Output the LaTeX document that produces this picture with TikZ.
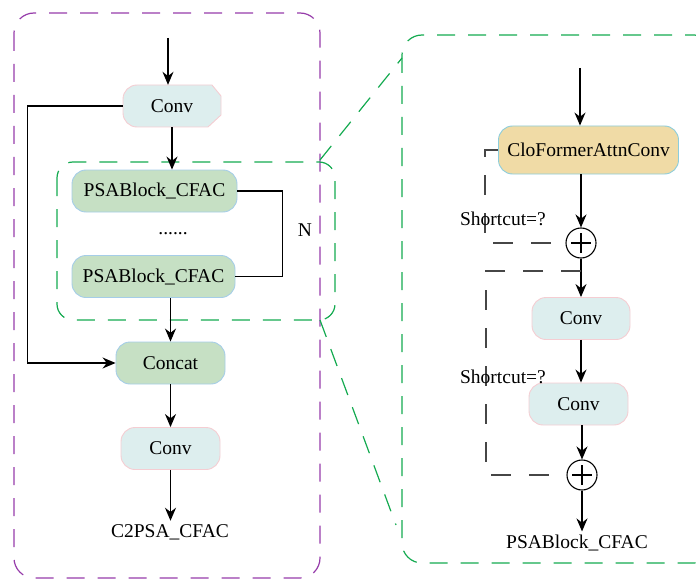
\documentclass[tikz,border=0pt]{standalone}
\usepackage{fontspec}
\setmainfont{Liberation Serif}
\usetikzlibrary{arrows.meta,calc}
\definecolor{boxpurple}{RGB}{150,60,170}
\definecolor{boxgreen}{RGB}{20,170,80}
\definecolor{convfill}{RGB}{221,238,238}
\definecolor{convline}{RGB}{245,205,210}
\definecolor{psafill}{RGB}{198,224,196}
\definecolor{psaline}{RGB}{165,205,232}
\definecolor{attnfill}{RGB}{240,219,166}
\definecolor{attnline}{RGB}{140,205,220}
\definecolor{cutgray}{RGB}{70,70,70}

\begin{document}
\begin{tikzpicture}[x=1pt,y=-1pt,font=\fontsize{19.5}{22}\selectfont,
  blk/.style={rounded corners=14pt,minimum height=42pt,inner sep=0pt,line width=.9pt},
  convblk/.style={blk,fill=convfill,draw=convline},
  psablk/.style={blk,fill=psafill,draw=psaline},
  attnblk/.style={blk,fill=attnfill,draw=attnline,minimum height=48pt},
  addop/.style={circle,draw,fill=white,line width=1.1pt,minimum size=30pt,inner sep=0pt},
  flow/.style={-{Stealth[length=13pt,width=11pt]},line width=1.3pt},
  link/.style={line width=1.2pt},
  zone/.style={dash pattern=on 18pt off 13pt,line width=1.2pt,rounded corners=20pt},
  cut/.style={cutgray,dash pattern=on 20pt off 18pt,line width=1.2pt}]
\clip (0,0) rectangle (696,583);

% outer module and zoomed block
\draw[zone,boxpurple] (14,13) rectangle (320,578);
\draw[zone,boxgreen,rounded corners=16pt] (57,162) rectangle (335,320);
\draw[zone,boxgreen] (402,35) rectangle (714,563);
\draw[zone,boxgreen] (320,160) -- (402,58);
\draw[zone,boxgreen] (320,320) -- (396,525);

% C2PSA_CFAC
\filldraw[fill=convfill,draw=convline,line width=.9pt] (170,85) -- (212,85) -- (221,96)
  -- (221,115) -- (208,127) -- (170,127) [rounded corners=14pt] -- (123,127) -- (123,85) -- cycle;
\node[inner sep=0pt,minimum width=98pt,minimum height=42pt] (conva) at (172,106) {Conv};
\node[psablk,minimum width=165pt] (psaa) at (154.5,191) {PSABlock\_CFAC};
\node (dots) at (173,234) {......};
\node[psablk,minimum width=163pt] (psab) at (153.5,276.5) {PSABlock\_CFAC};
\node (reps) at (305,230) {N};
\node[psablk,minimum width=109pt] (concat) at (170.5,363) {Concat};
\node[convblk,minimum width=99pt] (convb) at (170.5,448.5) {Conv};
\node (outa) at (170,532) {C2PSA\_CFAC};

\coordinate (ina) at (168,38);
\draw[flow] (ina) -- (ina |- conva.north);
\draw[flow] (conva.south) -- (conva.south |- psaa.north);
\draw[link] (psaa.east) -- ++(45,0) |- (psab.east);
\draw[flow] (concat.north |- psab.south) -- (concat.north);
\draw[flow] (conva.west) -- ++(-95,0) |- (concat.west);
\draw[flow] (concat.south) -- (convb.north);
\draw[flow] (convb.south) -- (convb.south |- outa.north);

% PSABlock_CFAC
\node[attnblk,minimum width=180pt] (attn) at (588.5,150) {CloFormerAttnConv};
\node[addop] (plusa) at (581,243) {};
\node[convblk,minimum width=98pt] (convc) at (581,318.5) {Conv};
\node[convblk,minimum width=99pt] (convd) at (578.5,404) {Conv};
\node[addop] (plusb) at (582,475) {};
\node (outb) at (577,543) {PSABlock\_CFAC};
\foreach \p in {plusa,plusb}
  \draw[line width=1.1pt] ([xshift=-10pt]\p.center) -- ([xshift=10pt]\p.center)
    ([yshift=-10pt]\p.center) -- ([yshift=10pt]\p.center);

\coordinate (inb) at (580,68);
\draw[flow] (inb) -- (inb |- attn.north);
\draw[flow] (plusa.north |- attn.south) -- (plusa.north);
\draw[flow] (plusa.south) -- (plusa.south |- convc.north);
\draw[flow] (convc.south) -- (convc.south |- convd.north);
\draw[flow] (plusb.north |- convd.south) -- (plusb.north);
\draw[flow] (plusb.south) -- (plusb.south |- outb.north);

% shortcuts
\coordinate (split) at (581,271);
\draw[cut] (attn.west) -- ++(-13,0) |- (plusa.west);
\draw[cut] (split) -- ++(-95,0) |- (plusb.west);
\node (cuta) at (503,219) {Shortcut=?};
\node (cutb) at (503,377) {Shortcut=?};
\end{tikzpicture}
\end{document}
